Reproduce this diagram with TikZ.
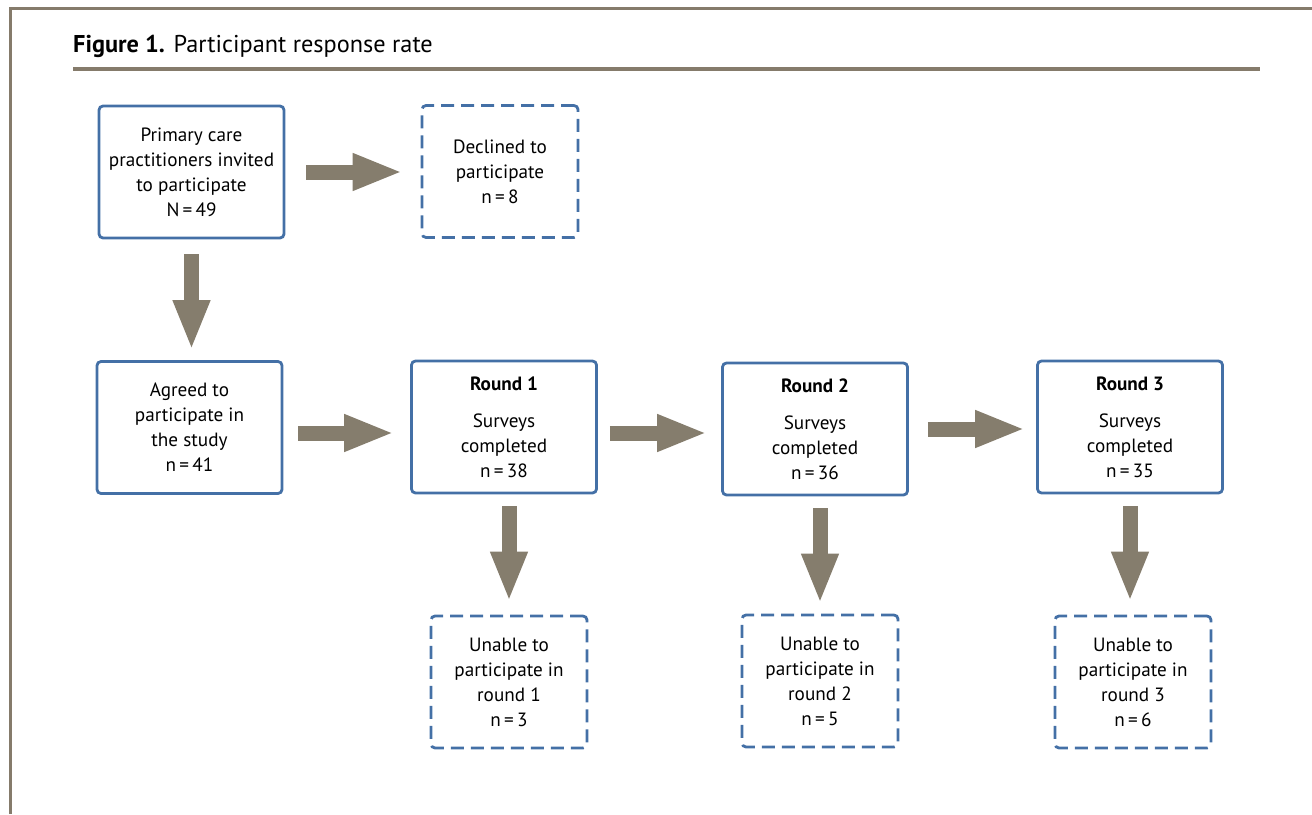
\documentclass[tikz,border=0pt]{standalone}
\usepackage{fontspec}
\setmainfont{PT Sans}
\usetikzlibrary{arrows.meta,calc}
\definecolor{boxblue}{HTML}{4470A6}
\definecolor{arrowc}{HTML}{857D6D}
\definecolor{rulec}{HTML}{857B6B}
\tikzset{
  box/.style={draw=boxblue, line width=2.8pt, rounded corners=4pt, align=center,
    font=\fontsize{19.2}{25}\selectfont, inner sep=0pt},
  solidbox/.style={box, minimum width=185pt, minimum height=132pt},
  dashbox/.style={box, dash pattern=on 13pt off 7pt, minimum width=156pt, minimum height=132pt},
  barrow/.style={draw=arrowc, line width=15pt, -{Triangle[length=50pt,width=34pt]}},
}
\begin{document}
\begin{tikzpicture}[x=1pt,y=-1pt]
\useasboundingbox (0,0) rectangle (1312,814);
% frame
\draw[rulec, line width=3pt] (10,814) -- (10,8) -- (1312,8);
\node[anchor=base west, inner sep=0pt, font=\fontsize{24.3}{28}\selectfont] (title) at (73,52) {\textbf{Figure 1.} Participant response rate};
\draw[rulec, line width=4pt] (73,69) -- (1260,69);
% nodes
\node[solidbox] (A) at (191.5,172) {Primary care\\practitioners invited\\to participate\\N\,=\,49};
\node[dashbox] (D) at (500,171.5) {Declined to\\participate\\n\,=\,8};
\node[solidbox] (B) at (189.5,427.5) {Agreed to\\participate in\\the study\\n\,=\,41};
\node[solidbox] (R1) at (504,427) {\textbf{Round 1}\\[12pt]Surveys\\completed\\n\,=\,38};
\node[solidbox] (R2) at (815,429) {\textbf{Round 2}\\[12pt]Surveys\\completed\\n\,=\,36};
\node[solidbox] (R3) at (1130,427) {\textbf{Round 3}\\[12pt]Surveys\\completed\\n\,=\,35};
\node[dashbox] (U1) at (509,682) {Unable to\\participate in\\round 1\\n\,=\,3};
\node[dashbox] (U2) at (820,681) {Unable to\\participate in\\round 2\\n\,=\,5};
\node[dashbox] (U3) at (1133,682) {Unable to\\participate in\\round 3\\n\,=\,6};
% connectors
\draw[barrow] ([xshift=21pt]A.east) -- ([xshift=-18pt]A.east -| D.west);
\draw[barrow] ([yshift=-15pt]A.south) -- ([yshift=10pt]A.south |- B.north);
\draw[barrow] ([xshift=15pt,yshift=-5.5pt]B.east) -- ([xshift=-16pt,yshift=-5.5pt]B.east -| R1.west);
\draw[barrow] ([xshift=12pt,yshift=-6pt]R1.east) -- ([xshift=-14pt,yshift=-6pt]R1.east -| R2.west);
\draw[barrow] ([xshift=19pt]R2.east) -- ([xshift=-11pt]R2.east -| R3.west);
\draw[barrow] ([yshift=-12pt]R1.south -| U1.north) -- ([yshift=13pt]U1.north);
\draw[barrow] ([yshift=-12pt]R2.south -| U2.north) -- ([yshift=10pt]U2.north);
\draw[barrow] ([yshift=-12pt]R3.south) -- ([yshift=13pt]R3.south |- U3.north);
\end{tikzpicture}
\end{document}
